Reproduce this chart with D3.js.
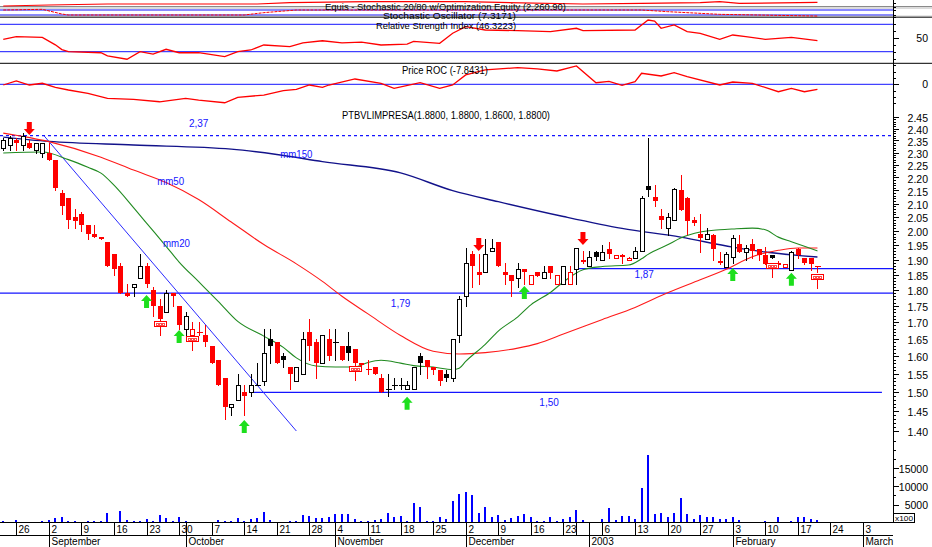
<!DOCTYPE html>
<html><head><meta charset="utf-8">
<script src="https://cdn.jsdelivr.net/npm/d3@7"></script>
<style>
body{margin:0;background:#fff}
svg{display:block}
text{font-family:"Liberation Sans",Arial,sans-serif}
</style>
</head><body>
<script>
// ---------------- DATA ----------------
const symbol = "PTBVLIMPRESA";
const opens = [2.32,2.33,2.35,2.33,2.34,2.31,2.30,2.30,2.27,2.14,
2.12,2.05,2.06,2.02,1.99,1.98,1.96,1.92,1.88,1.79,
1.81,1.84,1.88,1.80,1.75,1.73,1.79,1.75,1.68,1.66,
1.67,1.66,1.63,1.59,1.54,1.46,1.48,1.50,1.50,1.52,
1.53,1.65,1.64,1.60,1.57,1.53,1.55,1.67,1.64,1.58,
1.65,1.64,1.63,1.63,1.62,1.58,1.565,1.57,1.54,1.51,
1.52,1.52,1.51,1.51,1.60,1.59,1.57,1.56,1.55,1.54,
1.66,1.78,1.92,1.86,1.86,1.93,1.96,1.86,1.85,1.84,
1.87,1.82,1.86,1.84,1.88,1.82,1.82,1.82,1.87,1.90,
1.88,1.925,1.90,1.935,1.905,1.915,1.90,1.905,1.93,2.165,
2.125,2.055,2.01,2.04,2.15,2.12,2.04,1.99,1.97,1.985,
1.895,1.875,1.91,1.955,1.925,1.955,1.935,1.915,1.915,1.885,
1.875,1.865,1.935,1.905,1.905,1.88];
const highs = [2.36,2.37,2.36,2.38,2.35,2.34,2.34,2.34,2.27,2.15,
2.12,2.08,2.07,2.02,2.02,1.98,1.96,1.92,1.89,1.82,
1.82,1.92,1.89,1.81,1.77,1.80,1.79,1.75,1.73,1.70,
1.70,1.69,1.63,1.59,1.54,1.47,1.55,1.52,1.55,1.58,
1.68,1.68,1.64,1.61,1.57,1.57,1.67,1.71,1.65,1.66,
1.68,1.68,1.63,1.67,1.62,1.58,1.59,1.57,1.55,1.55,
1.54,1.54,1.53,1.57,1.61,1.59,1.57,1.56,1.56,1.65,
1.78,1.94,1.93,1.92,1.97,1.97,1.96,1.89,1.85,1.89,
1.87,1.85,1.86,1.88,1.88,1.85,1.88,1.88,1.94,1.93,
1.93,1.93,1.95,1.96,1.915,1.92,1.91,1.945,2.13,2.36,
2.17,2.08,2.065,2.16,2.21,2.125,2.05,2.06,2.01,1.99,
1.925,1.925,1.985,1.985,1.95,1.97,1.935,1.945,1.915,1.895,
1.885,1.93,1.94,1.905,1.905,1.88];
const lows = [2.31,2.31,2.31,2.31,2.32,2.30,2.28,2.27,2.15,2.06,
2.01,2.01,2.00,1.97,1.98,1.97,1.88,1.85,1.79,1.78,
1.78,1.84,1.81,1.72,1.705,1.73,1.75,1.68,1.65,1.66,
1.66,1.63,1.58,1.52,1.43,1.44,1.48,1.44,1.49,1.52,
1.52,1.58,1.58,1.57,1.51,1.53,1.55,1.59,1.54,1.58,
1.59,1.59,1.59,1.59,1.575,1.57,1.55,1.55,1.50,1.49,
1.51,1.51,1.51,1.51,1.55,1.54,1.55,1.52,1.53,1.53,
1.64,1.75,1.81,1.82,1.86,1.93,1.88,1.82,1.78,1.81,
1.82,1.82,1.845,1.84,1.84,1.82,1.82,1.82,1.82,1.89,
1.88,1.90,1.90,1.905,1.905,1.89,1.90,1.905,1.93,2.13,
2.09,2.01,1.985,2.04,2.075,1.99,2.02,1.925,1.97,1.90,
1.885,1.875,1.89,1.925,1.90,1.905,1.90,1.885,1.905,1.885,
1.875,1.865,1.905,1.885,1.865,1.86];
const closes = [2.35,2.36,2.34,2.37,2.32,2.34,2.34,2.27,2.16,2.09,
2.04,2.035,2.02,1.99,1.98,1.97,1.88,1.87,1.79,1.78,
1.82,1.88,1.82,1.75,1.71,1.79,1.78,1.69,1.72,1.68,
1.67,1.64,1.58,1.52,1.46,1.47,1.52,1.49,1.52,1.52,
1.61,1.63,1.58,1.59,1.55,1.57,1.65,1.63,1.58,1.66,
1.60,1.64,1.59,1.61,1.58,1.575,1.565,1.55,1.50,1.51,
1.52,1.52,1.52,1.57,1.58,1.57,1.56,1.53,1.54,1.65,
1.77,1.89,1.88,1.85,1.92,1.94,1.88,1.85,1.83,1.87,
1.86,1.85,1.845,1.86,1.855,1.85,1.88,1.86,1.94,1.895,
1.91,1.91,1.925,1.92,1.915,1.91,1.905,1.93,2.12,2.15,
2.11,2.04,2.05,2.155,2.075,2.035,2.03,1.975,1.99,1.935,
1.89,1.92,1.975,1.925,1.94,1.93,1.915,1.885,1.905,1.89,
1.885,1.925,1.915,1.89,1.885,1.88];
// volume in hundreds
const volumes = [370,180,730,180,180,180,370,730,1190,1470,
370,370,180,370,370,370,2560,180,3200,730,
370,370,920,370,2100,1190,370,1650,370,180,
180,180,180,640,460,370,1190,460,920,1190,
3020,730,180,180,370,460,2020,1830,1190,1370,
1470,2380,2380,2380,920,370,460,730,1100,2750,
1650,1830,550,5310,4400,550,370,1470,1100,6050,
7880,8520,7600,2560,4400,1650,2100,730,1190,1830,
2380,1470,460,370,1470,550,920,1650,3480,730,
180,180,1000,3940,730,1830,1830,920,9430,18600,
2380,2560,1470,2560,6690,2380,920,2020,1470,1470,
920,1100,1470,640,280,280,180,370,280,1650,
280,370,1470,1470,920,730];
// moving averages: [day index, value]
const mm20 = [[0,2.298],[6,2.302],[10,2.271],[13,2.24],[15,2.217],[17,2.17],[20,2.085],[22,2.028],[25,1.946],[27,1.892],[30,1.827],[33,1.764],[36,1.702],[40,1.658],[43,1.625],[45,1.595],[48,1.572],[51,1.569],[54,1.569],[56,1.582],[58,1.588],[61,1.58],[63,1.573],[66,1.569],[69,1.562],[70,1.566],[71,1.585],[74,1.634],[76,1.673],[79,1.716],[81,1.753],[84,1.792],[86,1.826],[89,1.866],[92,1.877],[96,1.882],[98,1.903],[99,1.918],[102,1.951],[104,1.975],[107,1.996],[110,2.004],[112,2.007],[115,2.01],[117,2.004],[119,1.978],[121,1.962],[123,1.946],[125,1.93]];
const mm50 = [[0,2.381],[7,2.345],[15,2.281],[20,2.229],[25,2.18],[30,2.115],[35,2.032],[40,1.952],[45,1.886],[49,1.828],[52,1.78],[56,1.725],[61,1.66],[66,1.614],[70,1.606],[74,1.61],[79,1.623],[82,1.636],[86,1.664],[92,1.708],[97,1.745],[102,1.791],[107,1.833],[111,1.868],[115,1.91],[119,1.932],[122,1.94],[125,1.94]];
const mm150 = [[0,2.364],[7,2.346],[20,2.331],[35,2.314],[42,2.292],[49,2.263],[61,2.218],[69,2.149],[76,2.107],[86,2.052],[95,2.009],[104,1.978],[112,1.943],[117,1.926],[125,1.909]];
const rsi = [[0,48],[2,52],[6,51],[8,40],[9,33],[10,30],[15,28.5],[16,24],[19,19],[21,30],[23,26.6],[25,33.5],[27,28.5],[30,28.5],[34,22.7],[36,30],[38,32.5],[40,39.8],[44,37.3],[46,43],[49,46],[52,43],[55,44],[58,39.8],[62,41.2],[63,45],[67,42.3],[69,57],[71,66.5],[74,61.7],[79,60.7],[84,59.2],[88,64.2],[89,60.7],[97,61.7],[99,76.3],[100,74.8],[101,64.2],[103,69],[105,59.2],[107,56.9],[110,48.1],[112,54.4],[114,51.9],[117,48.1],[121,51],[125,46.3]];
const roc = [[0,-1.1],[2,5.2],[4,-1.1],[6,1.6],[8,-4.7],[10,-8.9],[13,-14.1],[16,-21.9],[20,-23.5],[24,-27.3],[28,-21.9],[30,-24.6],[34,-28.8],[36,-20.4],[40,-16.8],[43,-10],[45,-7.8],[47,-1.1],[49,-4.7],[50,-1.1],[54,8.3],[58,1.6],[60,-6.3],[64,2.5],[67,-6.3],[69,-1.1],[71,14.6],[74,22.4],[79,26],[82,24],[85,20.8],[88,28.7],[91,2.5],[93,4.7],[95,-1.6],[97,4.1],[98,17.2],[101,13],[103,18.2],[105,11.9],[110,-1.1],[112,3.6],[115,1.6],[119,-11.6],[121,-6.3],[123,-11.6],[125,-7.84]];
const stoch = [[0,80],[6,88],[9,32],[10,20],[37,20],[40,48],[45,80],[98,80],[102,60],[110,28],[125,7.3]];
const equity = [[0,2042],[7,2104],[16,2165],[39,2165],[44,2245],[56,2306],[71,2306],[89,2165],[98,2208],[107,2245],[110,2306],[113,2208],[125,2261]];
// horizontal support/resistance levels: price, from index, to index
const levels = [[2.37,-0.5,136.6],[1.79,-0.5,136.6],[1.87,88,136.6],[1.50,38,134.9]];
const levelLabels = [["2,37",30,2.37],["1,79",61,1.79],["1,87",98.4,1.87],["1,50",83.8,1.50]];
const trendline = [[6.25,2.37],[45,1.40]];
const sellSignals = [[4,2.373],[73,1.93],[89,1.95]];
const buySignals = [[22,1.784],[27,1.676],[37,1.428],[62,1.488],[80,1.813],[112,1.872],[121,1.856]];
const markers = [[24,1.694],[29,1.650],[54,1.564],[118,1.879],[125,1.841]];
const priceTicks = d3.range(1.40,2.4501,0.05).map(v=>+v.toFixed(2));
const volTicks = [5000,10000,15000];
const holidays = ["2002-11-01","2002-12-24","2002-12-25","2002-12-26","2003-01-01"];
const monthNames = ["January","February","March","April","May","June","July","August","September","October","November","December"];
const titles = {
  eq:"Equis - Stochastic 20/80 w/Optimization Equity (2,260.90)",
  st:"Stochastic Oscillator (7.3171)",
  rsi:"Relative Strength Index (46.3223)",
  roc:"Price ROC (-7.8431)"
};

// ---------------- LAYOUT ----------------
const W=932,H=547,AX=893;
const RED="#ff0000",BLUE="#1414ff",GREEN="#1ddf1d";
const svg=d3.select("body").append("svg").attr("width",W).attr("height",H);
const x=d3.scaleLinear().domain([-0.5,136.6]).range([0,AX]);
const yP=d3.scaleLog().domain([1.5,2.37]).range([392.3,135.7]);
const yV=d3.scaleLinear().domain([0,5000]).range([522.7,504.5]);
const yR=d3.scaleLinear().domain([30,70]).range([51.7,24.3]);
const yC=d3.scaleLinear().domain([0,10]).range([84.3,77.9]);
const yS=d3.scaleLinear().domain([20,80]).range([15,10]);
const yE=d3.scaleLinear().domain([1950,2380]).range([7.5,0.5]);

// trading days
const days=[];{let d=new Date(Date.UTC(2002,7,22));while(days.length<140){const w=d.getUTCDay(),iso=d.toISOString().slice(0,10);if(w>0&&w<6&&!holidays.includes(iso))days.push(new Date(d));d=new Date(d.getTime()+864e5);}}

function hline(y,x1,x2,col,w,dash){const l=svg.append("line").attr("x1",x1).attr("x2",x2).attr("y1",y).attr("y2",y).attr("stroke",col).attr("stroke-width",w||1);if(dash)l.attr("stroke-dasharray",dash);return l;}
function label(t,cx,cy,len,size,col,anchor){const e=svg.append("text").attr("x",cx).attr("y",cy).attr("dy","0.35em").attr("font-size",size||10).attr("fill",col||"#000").attr("text-anchor",anchor||"middle").text(t);if(len)e.attr("textLength",len).attr("lengthAdjust","spacingAndGlyphs");return e;}

// ---- top panels
const lineOf=(ys)=>d3.line().x(d=>x(d[0])).y(d=>ys(d[1]));
hline(6.5,0,W,"#8a8a8a");hline(8,0,W,"#b8b8b8");
hline(10,0,AX,BLUE);hline(15,0,AX,BLUE);
hline(16.3,0,W,"#8a8a8a");hline(17.5,0,W,"#555");
svg.append("path").datum(equity).attr("d",lineOf(yE)).attr("fill","none").attr("stroke",RED).attr("stroke-width",1.2);
svg.append("path").datum(stoch).attr("d",lineOf(yS)).attr("fill","none").attr("stroke",RED).attr("stroke-width",1).attr("stroke-dasharray","3,1");
hline(yR(70),0,AX,BLUE);hline(yR(30),0,AX,BLUE);
svg.append("path").datum(rsi).attr("d",lineOf(yR)).attr("fill","none").attr("stroke",RED).attr("stroke-width",1.3);
hline(63.3,0,W,"#000");
hline(yC(0),0,AX,BLUE);
svg.append("path").datum(roc).attr("d",lineOf(yC)).attr("fill","none").attr("stroke",RED).attr("stroke-width",1.3);
label(titles.eq,445.5,6.6,241,9);
label(titles.st,449.5,16.3,133,9);
label(titles.rsi,446,25.6,140,9.5);
label(titles.roc,445,70.7,86,10);
const L=closes.length-1;
label(`${symbol}(${[opens[L],highs[L],lows[L],closes[L]].map(v=>v.toFixed(4)).join(", ")})`,446,115,208,10);

// ---- price panel
levels.forEach(([p,a,b],k)=>hline(yP(p),x(a),x(b),BLUE,1.2,k===0?"3,3":null));
levelLabels.forEach(([t,i,p])=>{const off=p>2.3?-12:(p===1.87?6:10);label(t,x(i),yP(p)+off,null,10,BLUE);});
svg.append("line").attr("x1",x(trendline[0][0])).attr("y1",yP(trendline[0][1])).attr("x2",x(trendline[1][0])).attr("y2",yP(trendline[1][1])).attr("stroke","#2a2aff").attr("stroke-width",1);
const maLine=d3.line().x(d=>x(d[0])).y(d=>yP(d[1])).curve(d3.curveMonotoneX);
svg.append("path").datum(mm150).attr("d",maLine).attr("fill","none").attr("stroke","#12128a").attr("stroke-width",1.4);
svg.append("path").datum(mm50).attr("d",maLine).attr("fill","none").attr("stroke","#ff1a1a").attr("stroke-width",1.1);
svg.append("path").datum(mm20).attr("d",maLine).attr("fill","none").attr("stroke","#208a20").attr("stroke-width",1.1);
label("mm150",x(45),yP(2.29),32,10,BLUE);
label("mm50",x(25.7),yP(2.183),27,10,BLUE);
label("mm20",x(26.6),yP(1.955),27,10,BLUE);

// candles
const cg=svg.append("g").attr("shape-rendering","crispEdges");
closes.forEach((c,i)=>{
  const o=opens[i],h=highs[i],l=lows[i];
  const col=(i>0&&c<closes[i-1])?RED:"#000";
  const cx=Math.round(x(i))+0.5;
  cg.append("line").attr("x1",cx).attr("x2",cx).attr("y1",Math.round(yP(h))).attr("y2",Math.round(yP(l))+1).attr("stroke",col);
  if(c===o){cg.append("line").attr("x1",cx-3).attr("x2",cx+3).attr("y1",Math.round(yP(c))+0.5).attr("y2",Math.round(yP(c))+0.5).attr("stroke",col);}
  else if(c>o){const yt=Math.round(yP(c))+0.5,yb=Math.round(yP(o))+0.5;cg.append("rect").attr("x",cx-2).attr("y",yt).attr("width",4).attr("height",Math.max(1,yb-yt)).attr("fill","#fff").attr("stroke",col);}
  else{const yt=Math.round(yP(o)),yb=Math.round(yP(c));cg.append("rect").attr("x",cx-2.5).attr("y",yt).attr("width",5).attr("height",Math.max(2,yb-yt)).attr("fill",col);}
});
// markers
markers.forEach(([i,p])=>{const cx=Math.round(x(i))+0.5,cy=Math.round(yP(p))+0.5;
  cg.append("line").attr("x1",cx).attr("x2",cx).attr("y1",cy+2).attr("y2",cy+11).attr("stroke",RED);
  cg.append("rect").attr("x",cx-6).attr("y",cy-3).attr("width",12).attr("height",5).attr("fill","#fff").attr("stroke",RED);
  [-3,0,3].forEach(dx=>cg.append("rect").attr("x",cx+dx-1).attr("y",cy-1).attr("width",2).attr("height",2).attr("fill","none").attr("stroke",RED).attr("stroke-width",0.7));
});
// signal arrows
sellSignals.forEach(([i,p])=>{const cx=x(i),t=yP(p);svg.append("path").attr("d",`M${cx-2.5},${t-13}H${cx+2.5}V${t-6}H${cx+5.5}L${cx},${t}L${cx-5.5},${t-6}H${cx-2.5}Z`).attr("fill",RED);});
buySignals.forEach(([i,p])=>{const cx=x(i),t=yP(p);svg.append("path").attr("d",`M${cx-2.5},${t+13}H${cx+2.5}V${t+6}H${cx+5.5}L${cx},${t}L${cx-5.5},${t+6}H${cx-2.5}Z`).attr("fill",GREEN);});

// ---- volume
const vg=svg.append("g").attr("shape-rendering","crispEdges");
volumes.forEach((v,i)=>{const cx=Math.round(x(i));vg.append("rect").attr("x",cx-1).attr("y",yV(v)).attr("width",2).attr("height",yV(0)-yV(v)).attr("fill","#0000ff");});

// ---- right axis
const ag=svg.append("g").attr("shape-rendering","crispEdges");
ag.append("line").attr("x1",AX+0.5).attr("x2",AX+0.5).attr("y1",0).attr("y2",522.7).attr("stroke","#000");
function ticks(vals,sc,len){vals.forEach(v=>{const y=Math.round(sc(v))+0.5;ag.append("line").attr("x1",AX).attr("x2",AX+len).attr("y1",y).attr("y2",y).attr("stroke","#000");});}
ticks(d3.range(140,246).map(v=>v/100).filter(v=>yP(v)>104&&yP(v)<440),yP,3);
ticks(priceTicks,yP,6);
priceTicks.forEach(v=>label(v.toFixed(2),928,yP(v)+1.5,null,10.5,"#000","end"));
ticks(d3.range(2500,22501,2500),yV,3);ticks(volTicks,yV,6);
volTicks.forEach(v=>label(String(v),928,yV(v)+1,null,10.5,"#000","end"));
ag.append("rect").attr("x",893.5).attr("y",513.5).attr("width",21).attr("height",9).attr("fill","#fff").attr("stroke","#000");
label("x100",904,518.3,18,7.5);
ticks(d3.range(20,81,10),yR,3);ticks([50],yR,6);label("50",928,yR(50),null,10.5,"#000","end");
ticks(d3.range(-30,31,10),yC,3);ticks([0],yC,6);label("0",928,yC(0),null,10.5,"#000","end");
ticks([20,80],yS,3);ticks([2000,2200],yE,3);

// ---- x axis
const xg=svg.append("g").attr("shape-rendering","crispEdges");
xg.append("line").attr("x1",0).attr("x2",AX).attr("y1",522.5).attr("y2",522.5).attr("stroke","#000");
xg.append("line").attr("x1",0).attr("x2",AX).attr("y1",535.5).attr("y2",535.5).attr("stroke","#000");
let lastTick=-99;
days.forEach((d,i)=>{
  const px=Math.round(x(i))+0.5; if(px>AX)return;
  const newMonth=i>0&&d.getUTCMonth()!==days[i-1].getUTCMonth();
  if(newMonth){xg.append("line").attr("x1",px).attr("x2",px).attr("y1",522.5).attr("y2",547).attr("stroke","#000");
    const m=d.getUTCMonth();label(m===0?String(d.getUTCFullYear()):monthNames[m],px+2,541.5,null,10,"#000","start");}
  if(d.getUTCDay()===1){xg.append("line").attr("x1",px).attr("x2",px).attr("y1",522.5).attr("y2",535).attr("stroke","#000");
    if(i-lastTick>=3)label(String(d.getUTCDate()),px+2,529,null,10,"#000","start");lastTick=i;}
});
</script>
</body></html>
